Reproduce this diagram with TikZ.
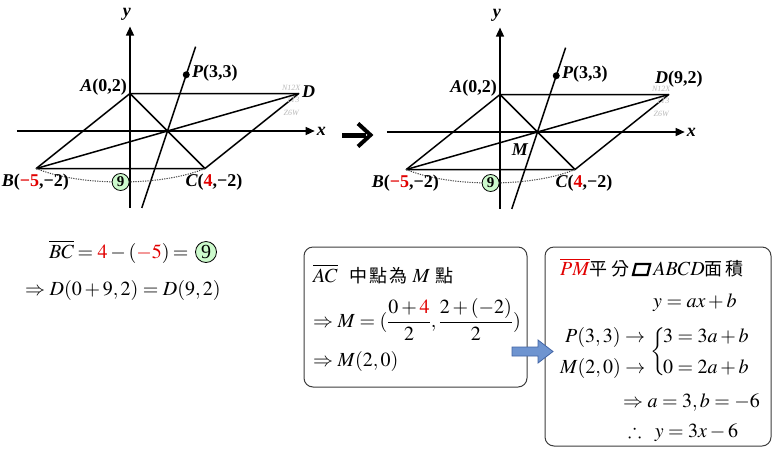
\documentclass[tikz,border=0pt]{standalone}
\usepackage{mathptmx}
\usepackage{amssymb}
\usepackage{fontspec}
\setmainfont{Liberation Serif}
\newfontfamily\cjk{Noto Sans CJK TC}
\usetikzlibrary{arrows.meta}
\definecolor{myred}{RGB}{225,0,0}
\definecolor{mygreen}{RGB}{204,250,204}
\definecolor{wm}{RGB}{185,185,185}
\definecolor{arrowblue}{RGB}{110,148,208}
\definecolor{arrowedge}{RGB}{65,100,165}
\definecolor{boxedge}{RGB}{60,60,60}
\newcommand\para{\tikz[baseline=0pt]\draw[line width=2.2pt,line join=miter] (0,0) -- (0.72em,0) -- (0.86em,0.55em) -- (0.14em,0.55em) -- cycle;}
\newcommand\cjkt[1]{{\cjk\fontsize{18}{18}\selectfont #1}}
\newcommand\plane[1]{%
\begin{scope}[shift={(130,131)}, x=18.75pt, y=18.75pt]
 \coordinate (#1O) at (0,0);
 \coordinate (#1A) at (0,2);
 \coordinate (#1B) at (-5,-2);
 \coordinate (#1C) at (4,-2);
 \coordinate (#1D) at (9,2);
 \coordinate (#1M) at (2,0);
 \coordinate (#1xs) at (-6.03,0); \coordinate (#1xe) at (9.85,0);
 \coordinate (#1ys) at (0,-4.1); \coordinate (#1ye) at (0,5.57);
 \coordinate (#1lt) at (3.5,4.5); \coordinate (#1lb) at (0.63,-4.1);
 \draw[axis] (#1xs) -- (#1xe);
 \draw[axis] (#1ys) -- (#1ye);
 \draw[edgeline, line join=round] (#1A) -- (#1D) -- (#1C) -- (#1B) -- cycle;
 \draw[edgeline] (#1A) -- (#1C);
 \draw[edgeline] (#1B) -- (#1D);
 \draw[edgeline] (#1lt) -- (#1lb);
 \node[dotp] (#1P) at (3,3) {};
 \draw[arcline] (#1B) .. controls (-2.7,-2.96) and (1.7,-2.96) .. (#1C);
 \node[nine] (#1nine) at (-0.5,-2.72) {9};
 \node[lbl, anchor=east] (#1Al) at (-0.16,2.35) {\textit{A}(0,2)};
 \node[lbl, anchor=west] (#1Pl) at (3.3,3.1) {\textit{P}(3,3)};
 \node[lbl] (#1Bl) at (-5.05,-2.72) {\textit{B}(\textcolor{myred}{−5},−2)};
 \node[lbl] (#1Cl) at (4.48,-2.72) {\textit{C}(\textcolor{myred}{4},−2)};
 \node[lbl, anchor=west] (#1xl) at (9.95,0) {\textit{x}};
 \node[lbl] (#1yl) at (-0.16,6.24) {\textit{y}};
 \node[wmk] (#1w1) at (8.6,2.3) {N12X};
 \node[wmk] (#1w2) at (8.7,1.65) {1T3};
 \node[wmk] (#1w3) at (8.6,0.96) {Z6W};
\end{scope}}
\begin{document}
\begin{tikzpicture}[x=1pt,y=-1pt,
  lbl/.style={font=\fontsize{18}{18}\selectfont\bfseries, inner sep=0},
  eq/.style={font=\fontsize{20}{24}\selectfont, inner sep=0, anchor=base west},
  axis/.style={line width=1.5pt, -{Triangle[length=9pt,width=8pt]}},
  edgeline/.style={line width=1.5pt},
  arcline/.style={line width=1pt, black!75, dash pattern=on 1.2pt off 1.2pt},
  dotp/.style={circle, fill=black, inner sep=0, minimum size=7pt},
  nine/.style={circle, draw, fill=mygreen, inner sep=0, minimum size=17pt, line width=0.8pt, font=\fontsize{15}{15}\selectfont\bfseries},
  wmk/.style={font=\fontsize{8}{8}\selectfont\itshape, text=wm, inner sep=0},
  box/.style={draw=boxedge, line width=1pt, rounded corners=9pt}]
\useasboundingbox (0,0) rectangle (773,448);
% left plane
\plane{L}
\node[lbl, anchor=west] (LDl) at (302,92) {\textit{D}};
% right plane
\begin{scope}[shift={(370,1)}]
\plane{R}
\node[lbl, anchor=west] (RDl) at (285,78) {\textit{D}(9,2)};
\node[lbl] (RMl) at (150,149) {\textit{M}};
\end{scope}
% black arrow
\draw[line width=5pt] (342,135) -- (366,135);
\draw[line width=4pt, line join=miter] (358,123.5) -- (370.5,135) -- (358,146.5);
% left equations
\node[eq] (e1) at (49,258) {$\overline{BC}\mskip-1mu=\textcolor{myred}{4}-(\textcolor{myred}{-5})\mskip-1mu=$};
\node[nine, minimum size=21pt, font=\fontsize{20}{20}\selectfont] (e1n) at (206,252) {9};
\node[eq] (e2) at (25,295) {$\Rightarrow D(0+9,2)=D(9,2)$};
% box 1
\node[box, minimum width=223pt, minimum height=140pt] (box1) at (415.5,317) {};
\node[eq] (b1a) at (313,282) {$\overline{AC}$\hspace{12pt}\cjkt{中\hspace{2pt}點\hspace{2pt}為}\hspace{5pt}$M$\hspace{5pt}\cjkt{點}};
\node[eq] (b1b) at (313,327) {$\displaystyle\Rightarrow M=(\frac{0+\textcolor{myred}{4}}{2},\frac{2+(-2)}{2})$};
\node[eq] (b1c) at (313,366) {$\Rightarrow M(2,0)$};
% box 2
\node[box, minimum width=226pt, minimum height=199pt] (box2) at (658,346.5) {};
\node[eq] (b2a) at (560,275) {$\textcolor{myred}{\overline{PM}}$\cjkt{平\hspace{4pt}分}\hspace{2pt}\para\hspace{2pt}$ABCD$\cjkt{面\hspace{3pt}積}};
\node[eq] (b2b) at (653,307) {$y=ax+b$};
\node[eq] (b2c) at (565,342) {$P(3,3)\rightarrow$};
\node[eq] (b2d) at (560,373) {$M(2,0)\rightarrow$};
\node[font=\fontsize{20}{24}\selectfont, inner sep=0, anchor=west] (b2br) at (650,352) {$\left\{\rule[-19pt]{0pt}{48pt}\right.$};
\node[eq] (b2e1) at (663,342) {$3=3a+b$};
\node[eq] (b2e2) at (663,373) {$0=2a+b$};
\node[eq] (b2f) at (623,407) {$\Rightarrow a=3,b=-6$};
\node[eq] (b2g) at (628,437) {$\therefore\;\; y=3x-6$};
% blue block arrow
\draw[fill=arrowblue, draw=arrowedge, line width=0.8pt] (512,347) -- (538,347) -- (538,340) -- (553,351.5) -- (538,363) -- (538,356) -- (512,356) -- cycle;
\end{tikzpicture}
\end{document}
